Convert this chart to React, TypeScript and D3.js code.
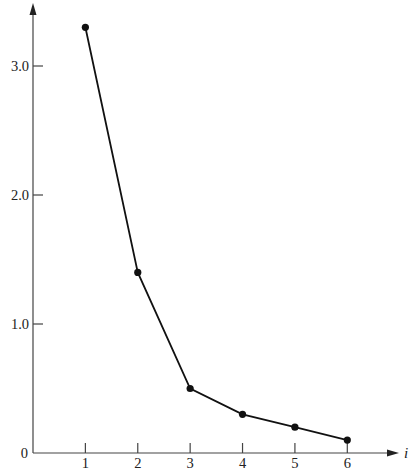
import { useEffect, useRef } from "react";
import * as d3 from "d3";

const indices = [1, 2, 3, 4, 5, 6];
const values = [3.3, 1.4, 0.5, 0.3, 0.2, 0.1];
const yTicks = [1, 2, 3];
const yTickLabels = ["1.0", "2.0", "3.0"];

const width = 416;
const height = 473;

export default function App() {
  const svgRef = useRef<SVGSVGElement>(null);

  useEffect(() => {
    if (!svgRef.current) return;
    const svg = d3.select(svgRef.current);
    svg.selectAll("*").remove();

    const x = d3.scaleLinear().domain([0, 6]).range([33, 347.3]);
    const y = d3.scaleLinear().domain([0, 3]).range([453, 66]);

    const axisColor = "#444";
    const textColor = "#222";
    const font = "'Liberation Serif', 'DejaVu Serif', serif";

    // y axis with arrow
    svg.append("line")
      .attr("x1", x(0)).attr("x2", x(0))
      .attr("y1", y(0)).attr("y2", 10)
      .attr("stroke", axisColor).attr("stroke-width", 1.2);
    svg.append("path")
      .attr("d", `M${x(0)},3 L${x(0) - 3.5},15 L${x(0) + 3.5},15 Z`)
      .attr("fill", "#222");

    // x axis with arrow
    svg.append("line")
      .attr("x1", x(0)).attr("x2", 392)
      .attr("y1", y(0)).attr("y2", y(0))
      .attr("stroke", axisColor).attr("stroke-width", 1.2);
    svg.append("path")
      .attr("d", `M399,${y(0)} L387,${y(0) - 3.5} L387,${y(0) + 3.5} Z`)
      .attr("fill", "#222");

    // y ticks
    yTicks.forEach((t, i) => {
      svg.append("line")
        .attr("x1", x(0)).attr("x2", x(0) + 10)
        .attr("y1", y(t)).attr("y2", y(t))
        .attr("stroke", axisColor).attr("stroke-width", 1.2);
      svg.append("text")
        .attr("x", 29).attr("y", y(t))
        .attr("dy", "0.35em")
        .attr("text-anchor", "end")
        .attr("font-family", font)
        .attr("font-size", 14.5)
        .attr("fill", textColor)
        .text(yTickLabels[i]);
    });
    svg.append("text")
      .attr("x", 28).attr("y", y(0))
      .attr("dy", "0.35em")
      .attr("text-anchor", "end")
      .attr("font-family", font)
      .attr("font-size", 14.5)
      .attr("fill", textColor)
      .text("0");

    // x ticks
    indices.forEach((d) => {
      svg.append("line")
        .attr("x1", x(d)).attr("x2", x(d))
        .attr("y1", y(0)).attr("y2", y(0) - 10)
        .attr("stroke", axisColor).attr("stroke-width", 1.2);
      svg.append("text")
        .attr("x", x(d)).attr("y", 468)
        .attr("text-anchor", "middle")
        .attr("font-family", font)
        .attr("font-size", 14.5)
        .attr("fill", textColor)
        .text(d);
    });
    svg.append("text")
      .attr("x", 404).attr("y", 458)
      .attr("font-family", font)
      .attr("font-style", "italic")
      .attr("font-size", 15)
      .attr("fill", textColor)
      .text("i");

    const pts = indices.map((d, i) => ({ i: d, v: values[i] }));
    const line = d3.line<{ i: number; v: number }>()
      .x((d) => x(d.i))
      .y((d) => y(d.v));

    svg.append("path")
      .datum(pts)
      .attr("fill", "none")
      .attr("stroke", "#111")
      .attr("stroke-width", 1.8)
      .attr("d", line);

    svg.selectAll("circle.pt")
      .data(pts)
      .join("circle")
      .attr("class", "pt")
      .attr("cx", (d) => x(d.i))
      .attr("cy", (d) => y(d.v))
      .attr("r", 3.6)
      .attr("fill", "#111");
  }, []);

  return (
    <svg
      ref={svgRef}
      width={width}
      height={height}
      style={{ position: "absolute", left: 0, top: 0, background: "#fff" }}
    />
  );
}
